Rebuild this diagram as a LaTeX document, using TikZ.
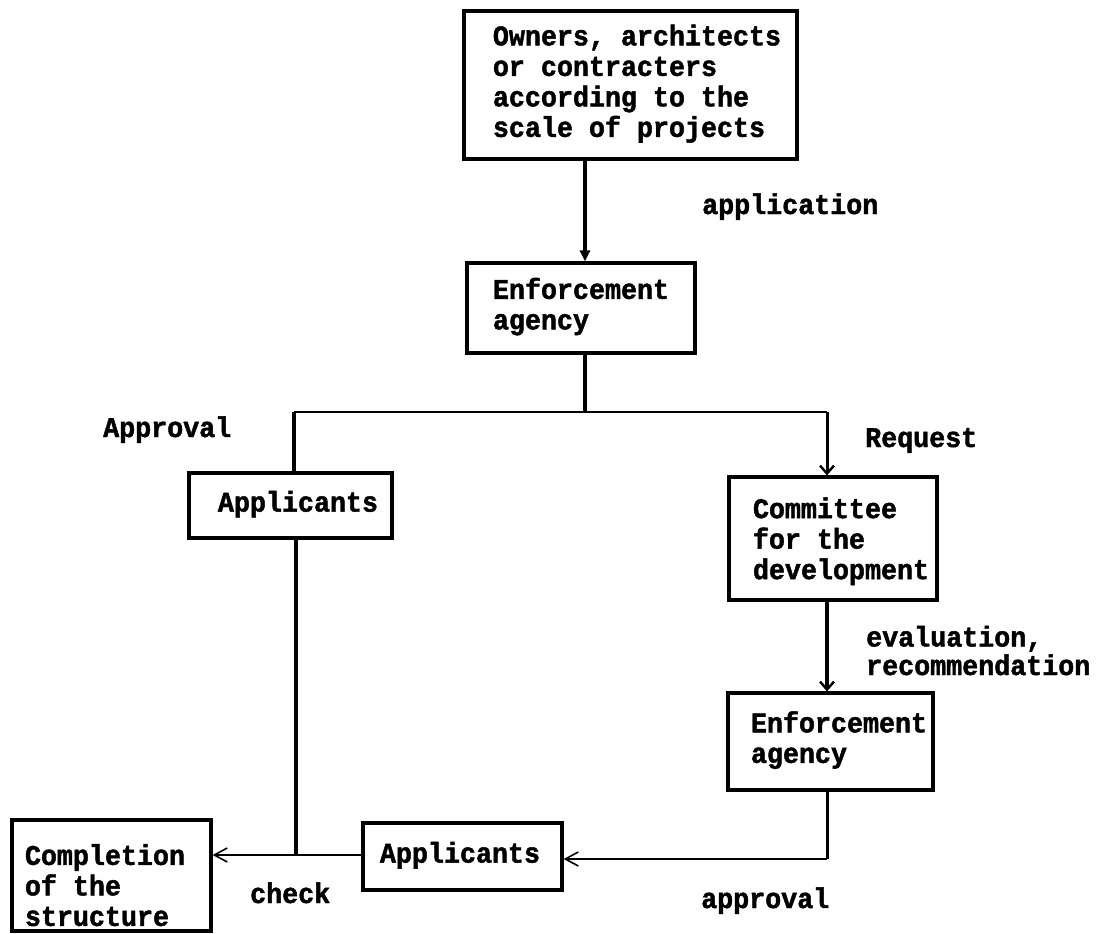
\documentclass[tikz,border=0pt]{standalone}
\usepackage{fontspec}
\newfontfamily\twf{Liberation Mono}[BoldFeatures={FakeBold=1.6,FakeStretch=0.936}]
\usetikzlibrary{arrows.meta}
\newcommand\bxtxt[3]{\hspace*{#1}\begin{tabular}{@{}l@{}}#3\end{tabular}\hspace*{#2}}
\tikzset{
  tw/.style={font={\twf\bfseries\fontsize{28.5}{30.5}\selectfont}},
  box/.style={tw, draw, line width=3.2pt, inner xsep=0pt, inner ysep=0pt},
  lbl/.style={tw, inner sep=0pt, anchor=base west},
  thick line/.style={line width=3.6pt},
  thin line/.style={line width=1.6pt},
  filltip/.style={-{Triangle[length=11pt,width=10pt]}},
  barbtip/.style={-{Straight Barb[length=8pt,width=14pt,line width=2.4pt]}},
  sidetip/.style={-{Straight Barb[length=13pt,width=14pt,line width=1.6pt]}},
}
\begin{document}
\begin{tikzpicture}[x=1pt,y=-1pt]
\useasboundingbox (0,0) rectangle (1096,934);
% boxes
\node[box, minimum width=333pt, minimum height=148pt] (top) at (630.5,85)
  {\bxtxt{13pt}{0pt}{Owners, architects\\or contracters\\according to the\\scale of projects}};
\node[box, minimum width=228pt, minimum height=90pt] (enfA) at (581,308)
  {\bxtxt{0pt}{0pt}{Enforcement\\agency}};
\node[box, minimum width=203pt, minimum height=65pt] (appA) at (290.5,505.5)
  {\bxtxt{15pt}{0pt}{Applicants}};
\node[box, minimum width=208pt, minimum height=123pt] (comm) at (833,538.5)
  {\rule{0pt}{60pt}\bxtxt{16pt}{0pt}{Committee\\for the\\development}};
\node[box, minimum width=205pt, minimum height=97pt] (enfB) at (830.5,741.5)
  {\bxtxt{17pt}{0pt}{Enforcement\\agency}};
\node[box, minimum width=199pt, minimum height=67pt] (appB) at (462.5,856.5)
  {\bxtxt{0pt}{5pt}{Applicants}};
\node[box, minimum width=199pt, minimum height=111pt] (comp) at (111.5,875.5)
  {\raisebox{-13pt}[53pt][39pt]{\bxtxt{0pt}{13pt}{Completion\\of the\\structure}}};
% junction coordinates
\coordinate (split) at (585,412);
\coordinate (leftJ) at (294,412);
\coordinate (rightJ) at (827,412);
\coordinate (checkJ) at (296,855);
\coordinate (apprJ) at (827,859);
% connectors
\draw[thick line, filltip] (top.south -| split) -- (enfA.north -| split);
\draw[thick line] (enfA.south -| split) -- (split);
\draw[thin line] (leftJ) -- (rightJ);
\draw[thick line] (leftJ) -- (appA.north -| leftJ);
\draw[line width=3pt, barbtip] (rightJ) -- (comm.north -| rightJ);
\draw[thick line, barbtip] (comm.south -| rightJ) -- (enfB.north -| rightJ);
\draw[line width=3pt] (enfB.south -| apprJ) -- (apprJ);
\draw[thin line, sidetip] (apprJ) -- (appB.east |- apprJ);
\draw[line width=3.4pt] (appA.south -| checkJ) -- (checkJ);
\draw[thin line, sidetip] (appB.west |- checkJ) -- (comp.east |- checkJ);
% labels
\node[lbl] (lapp) at (702,214) {application};
\node[lbl] (lApr) at (103,437) {Approval};
\node[lbl] (lreq) at (865,447) {Request};
\node[tw, inner sep=0pt, anchor=base west, align=left, font={\twf\bfseries\fontsize{28.5}{28.5}\selectfont}] (leval) at (866,675) {evaluation,\\recommendation};
\node[lbl] (lchk) at (250,903) {check};
\node[lbl] (lapl) at (701,908) {approval};
\end{tikzpicture}
\end{document}
